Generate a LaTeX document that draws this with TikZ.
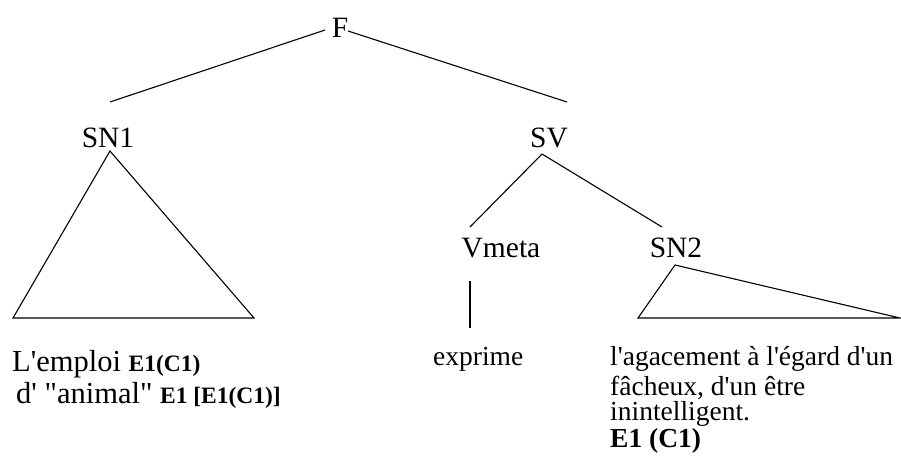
\documentclass[tikz,border=0pt]{standalone}
\usepackage{fontspec}
\setmainfont{Liberation Serif}[Ligatures=TeXOff]
\newcommand\tagfont{\bfseries\fontsize{23.5}{28}\selectfont}
\begin{document}
\begin{tikzpicture}[x=1pt,y=-1pt,
  cat/.style={anchor=base,inner sep=0pt,font=\fontsize{29.5}{35}\selectfont},
  leaf/.style={anchor=base west,inner sep=0pt,font=\fontsize{30.5}{36}\selectfont},
  gloss/.style={anchor=base west,inner sep=0pt,font=\fontsize{27.5}{33}\selectfont},
  branch/.style={line width=1.1pt,line join=miter}]
\useasboundingbox (0,0) rectangle (901,466);

% category labels
\node[cat] (F)     at (340,37)  {F};
\node[cat] (SN1)   at (108,147) {SN1};
\node[cat] (SV)    at (549,147) {SV};
\node[cat] (Vmeta) at (501,257) {Vmeta};
\node[cat] (SN2)   at (676,257) {SN2};

% terminal strings
\node[leaf] (emploi) at (12,371) {L'emploi {\tagfont E1(C1)}};
\node[leaf] (animal) at (16,403) {d' "animal" {\tagfont E1 [E1(C1)]}};
\node[gloss] (exprime) at (433,365) {exprime};
\node[gloss] (ag1) at (610,365) {l'agacement à l'égard d'un};
\node[gloss] (ag2) at (610,395) {fâcheux, d'un être};
\node[gloss] (ag3) at (610,420) {inintelligent.};
\node[gloss] (ag4) at (610,447) {\bfseries E1 (C1)};

% branches
\draw[branch] ([shift={(-15,-7)}]F.base) -- ([shift={(2,-45)}]SN1.base);
\draw[branch] ([shift={(8,-6)}]F.base) -- ([shift={(18,-45)}]SV.base);
\draw[branch] ([shift={(-7,7)}]SV.base) -- ([shift={(-31,-30)}]Vmeta.base);
\draw[branch] ([shift={(-7,7)}]SV.base) -- ([shift={(-14,-30)}]SN2.base);
\draw[branch] ([shift={(-31,24)}]Vmeta.base) -- ([shift={(37,-37)}]exprime.base west);

% abbreviated constituents
\draw[branch] ([shift={(2,4)}]SN1.base) -- ([shift={(-95,171)}]SN1.base)
  -- ([shift={(146,171)}]SN1.base) -- cycle;
\draw[branch] ([shift={(-1,8)}]SN2.base) -- ([shift={(-38,61)}]SN2.base)
  -- ([shift={(224,61)}]SN2.base) -- cycle;
\end{tikzpicture}
\end{document}
